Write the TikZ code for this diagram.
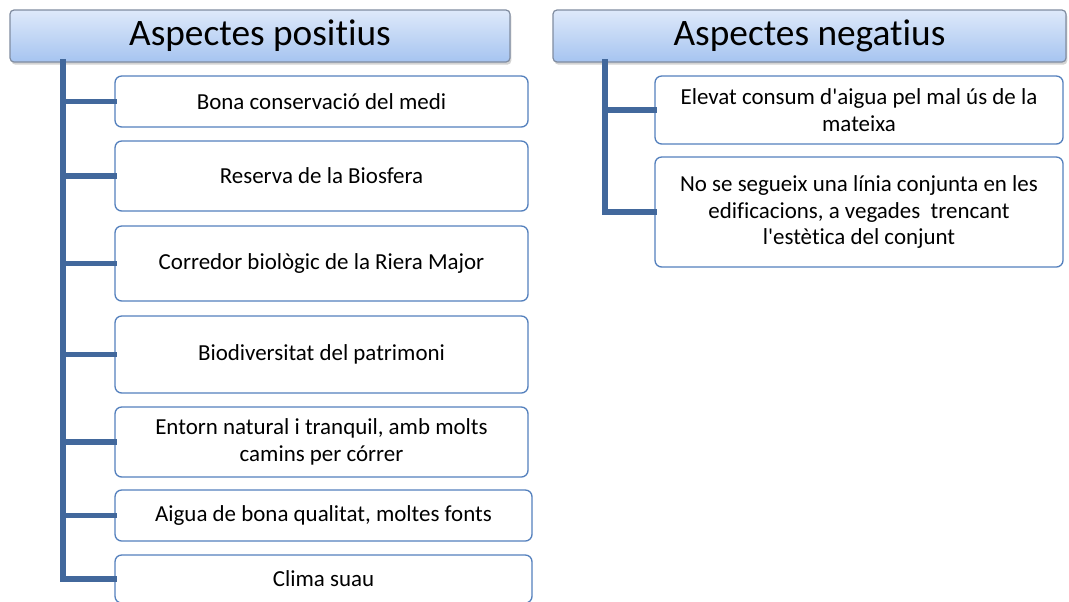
\documentclass[tikz,border=0pt]{standalone}
\usepackage{fontspec}
\setmainfont{Carlito}[Ligatures={TeXOff,NoCommon}]
\usetikzlibrary{shadows}

\definecolor{branchblue}{RGB}{66,104,156}
\definecolor{boxblue}{RGB}{84,128,189}
\definecolor{headtop}{RGB}{222,233,250}
\definecolor{headbot}{RGB}{166,196,240}
\definecolor{headline}{RGB}{128,140,160}

\tikzset{
  header/.style={draw=headline, line width=0.9pt, rounded corners=3pt,
    top color=headtop, bottom color=headbot, align=center,
    font=\fontsize{28}{31}\selectfont, inner sep=0pt,
    drop shadow={shadow xshift=1pt, shadow yshift=-2pt, opacity=0.35}},
  itembox/.style={draw=boxblue, line width=1pt, rounded corners=5pt,
    fill=white, align=center, inner sep=0pt,
    font=\fontsize{17.2}{20}\selectfont},
  branch/.style={draw=branchblue, line width=3.8pt, line cap=rect}
}

\begin{document}
\begin{tikzpicture}[x=0.75pt,y=-0.75pt]
  \useasboundingbox (0,0) rectangle (1069,601);

  % headers
  \node[header, minimum width=375pt, minimum height=39pt] (hpos) at (260,36) {Aspectes positius};
  \node[header, minimum width=384.75pt, minimum height=39pt] (hneg) at (809.5,36) {Aspectes negatius};

  \coordinate (lroot) at (63,62);
  \coordinate (rroot) at (605,62);

  % positive side
  \node[itembox, minimum width=309.75pt, minimum height=38.25pt] (p1) at (321.5,101.5) {Bona conservació del medi};
  \node[itembox, minimum width=309.75pt, minimum height=52.5pt] (p2) at (321.5,176) {Reserva de la Biosfera};
  \node[itembox, minimum width=309.75pt, minimum height=56.25pt] (p3) at (321.5,263.5) {Corredor biològic de la Riera Major};
  \node[itembox, minimum width=309.75pt, minimum height=57.75pt] (p4) at (321.5,354.5) {Biodiversitat del patrimoni};
  \node[itembox, minimum width=309.75pt, minimum height=52.5pt] (p5) at (321.5,442) {Entorn natural i tranquil, amb molts\\camins per córrer};
  \node[itembox, minimum width=312.75pt, minimum height=38.25pt] (p6) at (323.5,515.5) {Aigua de bona qualitat, moltes fonts};
  \node[itembox, minimum width=312.75pt, minimum height=36pt] (p7) at (323.5,579) {Clima suau};

  % negative side
  \node[itembox, minimum width=306pt, minimum height=51pt] (n1) at (859,110) {Elevat consum d'aigua pel mal ús de la\\mateixa};
  \node[itembox, minimum width=306pt, minimum height=82.5pt] (n2) at (859,212) {No se segueix una línia conjunta en les\\edificacions, a vegades\ \ trencant\\l'estètica del conjunt};

  % connectors
  \foreach \i in {1,...,7}
    \draw[branch] (lroot) |- (p\i.west);
  \foreach \i in {1,2}
    \draw[branch] (rroot) |- (n\i.west);
\end{tikzpicture}
\end{document}
